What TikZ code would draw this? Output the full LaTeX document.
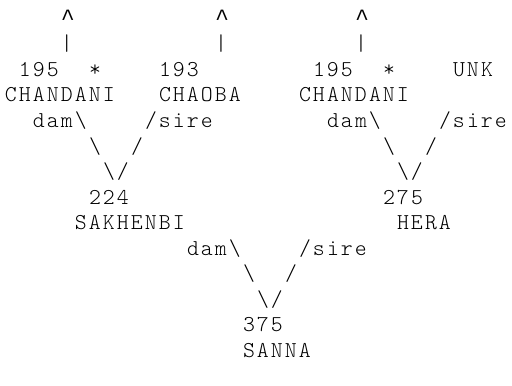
\documentclass[tikz,border=0pt]{standalone}
\usepackage{fontspec}
\newfontfamily\pedfont[LetterSpace=9.26]{lmmonolt10-regular.otf}
\newfontfamily\caretfont{Liberation Mono}
\begin{document}
\begin{tikzpicture}[
  x=10.5pt, y=-19.125pt,
  cell/.style={font=\pedfont\fontsize{17pt}{19pt}\selectfont, inner sep=0pt, outer sep=0pt, anchor=base west},
  caret/.style={cell, font=\caretfont\fontsize{17.5pt}{19pt}\selectfont}
]
\useasboundingbox (0,0) rectangle (36.571,15.137);
\begin{scope}[shift={(0.357,1)}]
% arrows up to the unknown generation
\node[caret] (up1) at (4,0) {\textasciicircum};
\node[caret] (up2) at (15,0) {\textasciicircum};
\node[caret] (up3) at (25,0) {\textasciicircum};
\node[cell] (bar1) at (4,1) {\textbar};
\node[cell] (bar2) at (15,1) {\textbar};
\node[cell] (bar3) at (25,1) {\textbar};
% grandparents
\node[cell] (id1) at (1,2) {195};
\node[cell] (star1) at (6,2) {*};
\node[cell] (id2) at (11,2) {193};
\node[cell] (id3) at (22,2) {195};
\node[cell] (star2) at (27,2) {*};
\node[cell] (id4) at (32,2) {UNK};
\node[cell] (gp1) at (0,3) {CHANDANI};
\node[cell] (gp2) at (11,3) {CHAOBA};
\node[cell] (gp3) at (21,3) {CHANDANI};
\node[cell] (dam1) at (2,4) {dam\textbackslash};
\node[cell] (sire1) at (10,4) {/sire};
\node[cell] (dam2) at (23,4) {dam\textbackslash};
\node[cell] (sire2) at (31,4) {/sire};
\node[cell] (vl1) at (6,5) {\textbackslash};
\node[cell] (vr1) at (9,5) {/};
\node[cell] (vl2) at (27,5) {\textbackslash};
\node[cell] (vr2) at (30,5) {/};
\node[cell] (tip1) at (7,6) {\textbackslash/};
\node[cell] (tip2) at (28,6) {\textbackslash/};
% parents
\node[cell] (id5) at (6,7) {224};
\node[cell] (id6) at (27,7) {275};
\node[cell] (par1) at (5,8) {SAKHENBI};
\node[cell] (par2) at (28,8) {HERA};
\node[cell] (dam3) at (13,9) {dam\textbackslash};
\node[cell] (sire3) at (21,9) {/sire};
\node[cell] (vl3) at (17,10) {\textbackslash};
\node[cell] (vr3) at (20,10) {/};
\node[cell] (tip3) at (18,11) {\textbackslash/};
% offspring
\node[cell] (id7) at (17,12) {375};
\node[cell] (kid) at (17,13) {SANNA};
\end{scope}
\end{tikzpicture}
\end{document}
